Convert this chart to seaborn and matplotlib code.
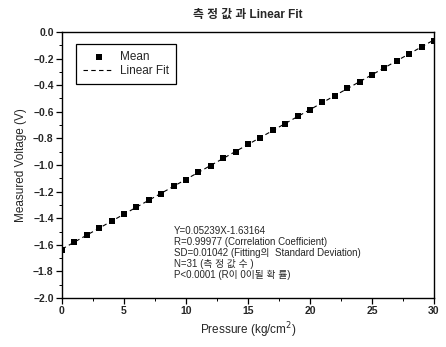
import matplotlib
matplotlib.use('Agg')
import matplotlib.pyplot as plt
import numpy as np
import pandas as pd
import seaborn as sns
from matplotlib.ticker import MultipleLocator

# data
pressure = list(range(31))
voltage = [-1.635, -1.578, -1.529, -1.472, -1.424, -1.368, -1.318, -1.263,
           -1.215, -1.158, -1.110, -1.052, -1.004, -0.949, -0.900, -0.844,
           -0.795, -0.739, -0.690, -0.634, -0.586, -0.529, -0.481, -0.425,
           -0.376, -0.320, -0.272, -0.215, -0.167, -0.110, -0.065]
slope = 0.05239
intercept = -1.63164
stats_lines = ['Y=0.05239X-1.63164',
               'R=0.99977 (Correlation Coefficient)',
               'SD=0.01042 (Fitting의  Standard Deviation)',
               'N=31 (측 정 값 수 )',
               'P<0.0001 (R이 0이될 확 률)']

sns.set_theme(style='ticks')
plt.rcParams['font.family'] = ['Liberation Sans', 'Noto Sans CJK KR', 'DejaVu Sans']
plt.rcParams['axes.edgecolor'] = 'black'

df = pd.DataFrame({'pressure': pressure, 'voltage': voltage})
df['fit'] = slope * df['pressure'] + intercept

fig = plt.figure(figsize=(4.46, 3.47), dpi=100)
ax = fig.add_axes([0.139, 0.141, 0.834, 0.767])

sns.lineplot(data=df, x='pressure', y='fit', ax=ax, color='black',
             linewidth=0.8, linestyle=(0, (4, 3)), label='Linear Fit')
sns.scatterplot(data=df, x='pressure', y='voltage', ax=ax, color='black',
                marker='s', s=16, linewidth=0, label='Mean', zorder=3)

ax.set_xlim(0, 30)
ax.set_ylim(-2.0, 0.0)
ax.xaxis.set_major_locator(MultipleLocator(5))
ax.xaxis.set_minor_locator(MultipleLocator(2.5))
ax.yaxis.set_major_locator(MultipleLocator(0.2))
ax.yaxis.set_minor_locator(MultipleLocator(0.1))
ax.tick_params(axis='both', which='major', direction='out', length=4,
               width=0.9, color='black', labelsize=7.5, pad=2)
ax.tick_params(axis='both', which='minor', direction='out', length=2,
               width=0.7, color='black')
for lab in ax.get_xticklabels() + ax.get_yticklabels():
    lab.set_fontweight('bold')
for sp in ax.spines.values():
    sp.set_linewidth(1.0)
    sp.set_visible(True)

ax.set_xlabel('Pressure (kg/cm$^2$)', fontsize=8.5, labelpad=3)
ax.set_ylabel('Measured Voltage (V)', fontsize=8.5, labelpad=4)
ax.set_title('측 정 값 과 Linear Fit', fontsize=8.5, fontweight='bold', pad=10)

ax.text(9.0, -1.46, '\n'.join(stats_lines), fontsize=7, va='top',
        ha='left', linespacing=1.12)

handles, labels = ax.get_legend_handles_labels()
order = [labels.index('Mean'), labels.index('Linear Fit')]
leg = ax.legend([handles[i] for i in order], [labels[i] for i in order],
                loc='upper left', bbox_to_anchor=(0.038, 0.955),
                fontsize=8.5, frameon=True, fancybox=False, framealpha=1,
                edgecolor='black', borderpad=0.6, handlelength=2.6,
                labelspacing=0.15, handletextpad=0.5, borderaxespad=0)
leg.get_frame().set_linewidth(0.9)

fig.savefig('out.png', dpi=100)
